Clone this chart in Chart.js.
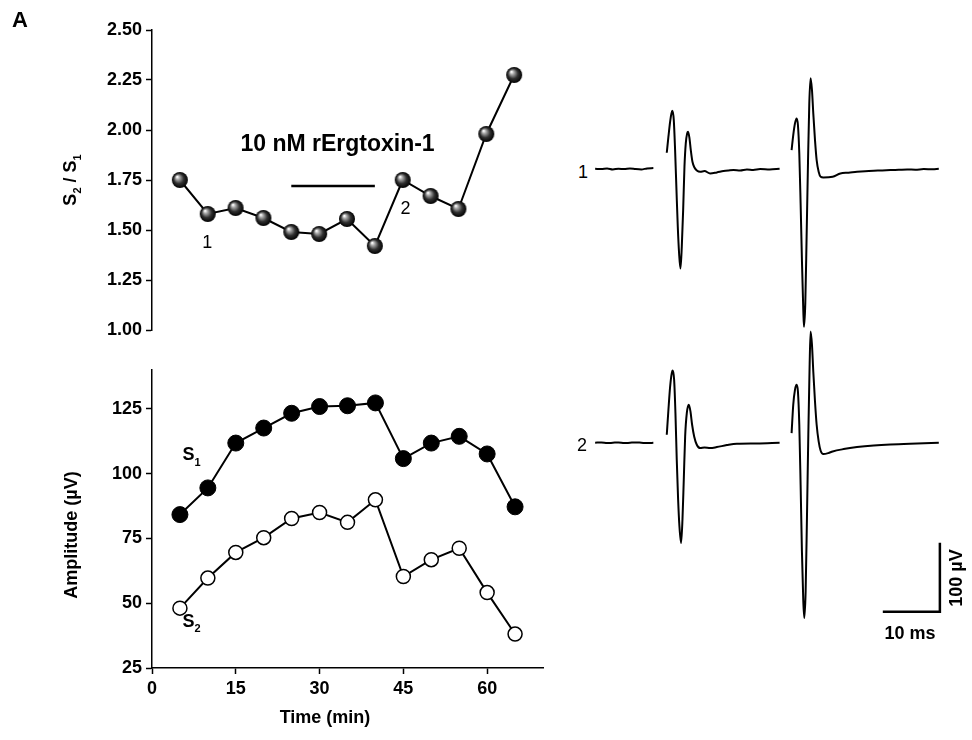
<!DOCTYPE html>
<html>
<head>
<meta charset="utf-8">
<title>rErgtoxin-1 paired pulse</title>
<script src="https://cdn.jsdelivr.net/npm/chart.js"></script>
<style>
  body { margin: 0; background: #fff; }
  #wrap { position: relative; width: 972px; height: 740px; font-family: Arial, "Liberation Sans", sans-serif; }
  canvas { position: absolute; }
  .lbl { position: absolute; color: #000; white-space: nowrap; line-height: 1; transform: translate(-50%, -50%); }
</style>
</head>
<body>
<div id="wrap">
  <canvas id="ratioChart" style="left:0;top:0" width="552" height="345"></canvas>
  <canvas id="ampChart" style="left:0;top:345px" width="552" height="395"></canvas>
  <canvas id="trace1" style="left:590px;top:60px" width="371" height="290"></canvas>
  <canvas id="trace2" style="left:590px;top:320px" width="371" height="320"></canvas>
  <div class="lbl" style="left:20px;top:20px;font:bold 22px Arial">A</div>
  <div class="lbl" style="left:583px;top:172px;font:18px Arial">1</div>
  <div class="lbl" style="left:582px;top:445px;font:18px Arial">2</div>
  <div class="lbl" style="left:910px;top:633px;font:bold 18px Arial">10 ms</div>
  <div class="lbl" style="left:956px;top:578px;font:bold 18px Arial;transform:translate(-50%,-50%) rotate(-90deg)">100 µV</div>
</div>

<script>
// time points (min)
const times = [5, 10, 15, 20, 25, 30, 35, 40, 45, 50, 55, 60, 65];
// S2/S1 ratio
const ratio = [1.75, 1.58, 1.61, 1.56, 1.49, 1.48, 1.555, 1.42, 1.75, 1.67, 1.605, 1.98, 2.275];
// amplitudes (uV)
const s1Amp = [84.2, 94.5, 111.8, 117.6, 123.3, 125.9, 126.2, 127.3, 105.8, 111.8, 114.4, 107.6, 87.2];
const s2Amp = [48.1, 59.7, 69.6, 75.3, 82.7, 85.0, 81.2, 89.9, 60.3, 66.8, 71.2, 54.1, 38.1];
const toxinWindow = [25, 40];
const toxinLevel = 1.72;

const timeTicks = [0, 15, 30, 45, 60];
const ratioTicks = [1.00, 1.25, 1.50, 1.75, 2.00, 2.25, 2.50];
const ampTicks = [25, 50, 75, 100, 125];

// traces: time (ms) / voltage (uV) relative to baseline
const r1BaseT = [0.9, 2, 3, 4, 5, 6, 7, 8, 9, 10, 11.1];
const r1BaseV = [0.5, 0, 1, -0.5, 0.5, 0, 1, 0, -0.5, 1, 1.5];
const r1S1T = [13.45, 13.74, 14.04, 14.27, 14.44, 14.68, 14.91, 15.15, 15.38, 15.61, 15.85, 16.08, 16.32, 16.55, 16.78, 17.02, 17.19, 17.43, 17.66, 17.95, 18.3, 18.77, 19.3, 20.06, 21.05, 22.22, 23.39, 24.3, 25.15, 26.3, 27.49, 28.6, 29.82, 31.5, 33.22];
const r1S1V = [23.7, 46.9, 68.6, 80.7, 84.5, 71.0, 27.5, -30.4, -83.6, -122.2, -144.0, -112.6, -59.4, 3.4, 37.2, 51.7, 54.1, 44.4, 27.5, 10.6, 2.4, -2.4, -3.9, -2.9, -6.3, -4.8, -2.9, -2.0, -1.4, -1.9, -0.5, -1.2, 0, -0.6, 0.5];
const r1S2T = [35.32, 35.61, 35.91, 36.2, 36.43, 36.67, 36.9, 37.13, 37.37, 37.49, 37.72, 37.95, 38.19, 38.42, 38.65, 38.89, 39.12, 39.42, 39.71, 40.06, 40.41, 40.88, 42.51, 43.86, 45.3, 46.78, 48.2, 49.71, 51.2, 52.63, 54.1, 55.56, 57.0, 58.48, 60.0, 61.11];
const r1S2V = [27.5, 49.3, 66.2, 73.4, 63.8, 22.7, -49.8, -131.9, -204.3, -228.5, -194.7, -98.1, 8.2, 95.2, 131.4, 114.5, 80.7, 42.0, 13.0, -3.9, -11.1, -12.1, -11.1, -6.3, -5.2, -3.9, -3.0, -2.4, -2.0, -1.4, -1.0, -0.5, -0.9, 0, -0.3, 0.5];

const r2BaseT = [0.9, 2, 3, 4, 5, 6, 7, 8, 9, 10, 11.1];
const r2BaseV = [0, 0.5, -0.5, 0, 0.5, -0.5, 0, 0.5, 0, -0.5, 0];
const r2S1T = [13.45, 13.74, 14.04, 14.33, 14.5, 14.74, 14.97, 15.2, 15.44, 15.67, 15.96, 16.2, 16.43, 16.67, 16.96, 17.31, 17.6, 17.89, 18.25, 18.71, 19.3, 20.06, 21.05, 22.22, 23.98, 25.73, 29.24, 33.22];
const r2S1V = [11.6, 47.8, 81.6, 101.0, 104.8, 91.3, 43.0, -24.6, -82.6, -121.3, -145.4, -111.6, -53.6, 9.2, 43.0, 55.1, 45.4, 26.1, 9.2, -2.9, -7.7, -6.8, -7.7, -6.3, -3.4, -1.4, -1.0, 0];
const r2S2T = [35.32, 35.61, 35.91, 36.2, 36.43, 36.67, 36.9, 37.13, 37.37, 37.54, 37.78, 38.01, 38.25, 38.48, 38.65, 38.89, 39.12, 39.42, 39.71, 40.06, 40.41, 40.88, 41.75, 42.51, 44.44, 46.78, 49.71, 52.63, 57.31, 61.11];
const r2S2V = [14.0, 55.1, 76.8, 84.1, 74.4, 26.1, -60.9, -157.5, -229.9, -254.1, -215.5, -109.2, 11.6, 113.0, 161.4, 142.0, 103.4, 59.9, 26.1, 1.9, -11.6, -16.4, -15.0, -12.6, -9.2, -6.3, -3.9, -2.4, -1.0, 0];

// scale bar: 10 ms, 100 uV
const scaleBarT = [51.3, 61.3, 61.3];
const scaleBarV = [-245, -245, -145];

const FONT = 'Arial, "Liberation Sans", sans-serif';
Chart.defaults.font.family = FONT;
Chart.defaults.color = '#000';

const pts = (xs, ys) => xs.map((x, i) => ({ x: x, y: ys[i] }));

function makeSphere(r) {
  const c = document.createElement('canvas');
  const d = r * 2 + 2;
  c.width = d; c.height = d;
  const g = c.getContext('2d');
  const m = d / 2;
  const grad = g.createRadialGradient(m - r * 0.35, m - r * 0.4, r * 0.05, m, m, r);
  grad.addColorStop(0, '#ffffff');
  grad.addColorStop(0.22, '#a8a8a8');
  grad.addColorStop(0.6, '#303030');
  grad.addColorStop(1, '#000000');
  g.fillStyle = grad;
  g.beginPath(); g.arc(m, m, r, 0, Math.PI * 2); g.fill();
  return c;
}

// text with subscripts, e.g. S2 / S1
function subText(ctx, parts, cx, cy, size) {
  const big = 'bold ' + size + 'px ' + FONT;
  const small = 'bold ' + Math.round(size * 0.6) + 'px ' + FONT;
  let w = 0;
  parts.forEach(p => {
    ctx.font = big; w += ctx.measureText(p[0]).width;
    ctx.font = small; w += ctx.measureText(p[1]).width;
  });
  let px = cx - w / 2;
  ctx.textAlign = 'left';
  ctx.textBaseline = 'middle';
  parts.forEach(p => {
    ctx.font = big; ctx.fillText(p[0], px, cy); px += ctx.measureText(p[0]).width;
    ctx.font = small; ctx.fillText(p[1], px, cy + size * 0.4); px += ctx.measureText(p[1]).width;
  });
}

const axisY = (ticks, fmt) => ({
  afterFit: s => { s.width = 152; },
  afterBuildTicks: s => { s.ticks = ticks.map(v => ({ value: v })); },
  ticks: { color: '#000', padding: 4, font: { size: 18, weight: 'bold' }, callback: fmt },
  grid: { drawOnChartArea: false, drawTicks: true, tickLength: 6, tickColor: '#000', tickWidth: 1.5 },
  border: { color: '#000', width: 1.5 }
});

const ratioNotes = {
  id: 'ratioNotes',
  afterDraw(chart) {
    const { ctx, chartArea, scales: { x, y } } = chart;
    ctx.save();
    ctx.fillStyle = '#000';
    ctx.textAlign = 'center';
    ctx.textBaseline = 'middle';
    ctx.font = 'bold 23px ' + FONT;
    ctx.fillText('10 nM rErgtoxin-1', x.getPixelForValue(33.3), y.getPixelForValue(1.925));
    ctx.font = '18px ' + FONT;
    ctx.fillText('1', x.getPixelForValue(9.9), y.getPixelForValue(1.435));
    ctx.fillText('2', x.getPixelForValue(45.5), y.getPixelForValue(1.605));
    ctx.translate(71, (chartArea.top + chartArea.bottom) / 2);
    ctx.rotate(-Math.PI / 2);
    subText(ctx, [['S', '2'], [' / S', '1']], 0, 0, 18);
    ctx.restore();
  }
};

const ampNotes = {
  id: 'ampNotes',
  afterDraw(chart) {
    const { ctx, scales: { x, y } } = chart;
    ctx.save();
    ctx.fillStyle = '#000';
    subText(ctx, [['S', '1']], x.getPixelForValue(7.1), y.getPixelForValue(107), 18);
    subText(ctx, [['S', '2']], x.getPixelForValue(7.1), y.getPixelForValue(42.8), 18);
    ctx.textAlign = 'center';
    ctx.textBaseline = 'middle';
    ctx.font = 'bold 18px ' + FONT;
    ctx.fillText('Time (min)', 325, 373);
    ctx.translate(72, 190);
    ctx.rotate(-Math.PI / 2);
    ctx.fillText('Amplitude (µV)', 0, 0);
    ctx.restore();
  }
};

new Chart(document.getElementById('ratioChart'), {
  type: 'line',
  data: {
    datasets: [
      {
        data: pts(times, ratio),
        borderColor: '#000', borderWidth: 2,
        pointStyle: makeSphere(8), pointRadius: 8
      },
      {
        data: pts(toxinWindow, [toxinLevel, toxinLevel]),
        borderColor: '#000', borderWidth: 2.5, pointRadius: 0
      }
    ]
  },
  options: {
    responsive: false, animation: false,
    layout: { padding: { top: 30, bottom: 15, left: 0, right: 2.5 } },
    plugins: { legend: { display: false }, tooltip: { enabled: false } },
    scales: {
      x: { type: 'linear', min: 0, max: 70, display: false },
      y: Object.assign({ min: 1, max: 2.5 }, axisY(ratioTicks, v => Number(v).toFixed(2)))
    }
  },
  plugins: [ratioNotes]
});

new Chart(document.getElementById('ampChart'), {
  type: 'line',
  data: {
    datasets: [
      {
        label: 'S1', data: pts(times, s1Amp),
        borderColor: '#000', borderWidth: 2,
        pointRadius: 8, pointBackgroundColor: '#000', pointBorderColor: '#000', pointBorderWidth: 1
      },
      {
        label: 'S2', data: pts(times, s2Amp),
        borderColor: '#000', borderWidth: 2,
        pointRadius: 7, pointBackgroundColor: '#fff', pointBorderColor: '#000', pointBorderWidth: 1.5
      }
    ]
  },
  options: {
    responsive: false, animation: false,
    layout: { padding: { top: 25, bottom: 0, left: 0, right: 2.5 } },
    plugins: { legend: { display: false }, tooltip: { enabled: false } },
    scales: {
      x: {
        type: 'linear', min: 0, max: 70,
        afterFit: s => { s.height = 72; },
        afterBuildTicks: s => { s.ticks = timeTicks.map(v => ({ value: v })); },
        ticks: { color: '#000', padding: 4, maxRotation: 0, font: { size: 18, weight: 'bold' } },
        grid: { drawOnChartArea: false, drawTicks: true, tickLength: 6, tickColor: '#000', tickWidth: 1.5 },
        border: { color: '#000', width: 1.5 }
      },
      y: Object.assign({ min: 25, max: 140 }, axisY(ampTicks, v => v))
    }
  },
  plugins: [ampNotes]
});

function traceChart(id, yMin, yMax, pieces) {
  new Chart(document.getElementById(id), {
    type: 'line',
    data: {
      datasets: pieces.map(p => ({
        data: pts(p[0], p[1]),
        borderColor: '#000', borderWidth: p[2] || 2,
        pointRadius: 0, cubicInterpolationMode: 'monotone'
      }))
    },
    options: {
      responsive: false, animation: false,
      layout: { padding: 0 },
      plugins: { legend: { display: false }, tooltip: { enabled: false } },
      scales: {
        x: { type: 'linear', min: 0, max: 65, display: false },
        y: { min: yMin, max: yMax, display: false }
      }
    }
  });
}

traceChart('trace1', -262, 158, [[r1BaseT, r1BaseV], [r1S1T, r1S1V], [r1S2T, r1S2V]]);
traceChart('trace2', -286, 178, [[r2BaseT, r2BaseV], [r2S1T, r2S1V], [r2S2T, r2S2V], [scaleBarT, scaleBarV, 2.5]]);
</script>
</body>
</html>
